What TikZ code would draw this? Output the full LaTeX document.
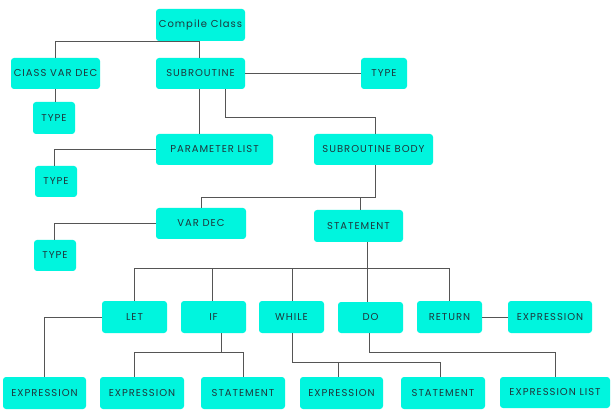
\documentclass[tikz,border=0pt]{standalone}
\usepackage{fontspec}
\setmainfont{Poppins}
\newfontfamily\boxfont[LetterSpace=10]{Poppins}
\definecolor{boxfill}{RGB}{0,245,222}
\definecolor{boxtext}{RGB}{30,55,60}
\definecolor{linec}{RGB}{85,85,85}
\begin{document}
\begin{tikzpicture}[x=1pt,y=-1pt,
  box/.style={fill=boxfill,rounded corners=3pt,inner sep=0pt,text=boxtext,font=\boxfont\fontsize{10}{12}\selectfont,minimum height=31pt},
  conn/.style={draw=linec,line width=0.8pt}]
\useasboundingbox[fill=white] (0,0) rectangle (615,419);
% nodes
\node[box,minimum width=89pt,minimum height=32pt] (cc) at (200.5,25) {Compile Class};
\node[box,minimum width=89pt] (cvd) at (55.5,73.5) {CIASS VAR DEC};
\node[box,minimum width=89pt] (sub) at (200.5,73.5) {SUBROUTINE};
\node[box,minimum width=42pt,minimum height=32pt] (t1) at (54,118) {TYPE};
\node[box,minimum width=46pt] (t2) at (384,73.5) {TYPE};
\node[box,minimum width=117pt] (pl) at (214.5,149.5) {PARAMETER LIST};
\node[box,minimum width=119pt] (sb) at (373.5,149.5) {SUBROUTINE BODY};
\node[box,minimum width=42pt] (t3) at (56,181.5) {TYPE};
\node[box,minimum width=90pt] (vd) at (201,223.5) {VAR DEC};
\node[box,minimum width=42pt] (t4) at (55,255.5) {TYPE};
\node[box,minimum width=89pt,minimum height=32pt] (st) at (358.5,226) {STATEMENT};
\node[box,minimum width=65pt,minimum height=32pt] (let) at (134.5,317) {LET};
\node[box,minimum width=65pt,minimum height=32pt] (if) at (213.5,317) {IF};
\node[box,minimum width=65pt,minimum height=32pt] (while) at (291.5,317) {WHILE};
\node[box,minimum width=65pt] (do) at (370.5,317.5) {DO};
\node[box,minimum width=65pt,minimum height=32pt] (ret) at (449.5,317) {RETURN};
\node[box,minimum width=84pt,minimum height=32pt] (e1) at (550,317) {EXPRESSION};
\node[box,minimum width=83pt,minimum height=32pt] (e2) at (44.5,393) {EXPRESSION};
\node[box,minimum width=84pt,minimum height=32pt] (e3) at (142,393) {EXPRESSION};
\node[box,minimum width=84pt,minimum height=32pt] (s2) at (243,393) {STATEMENT};
\node[box,minimum width=83pt,minimum height=32pt] (e4) at (341.5,393) {EXPRESSION};
\node[box,minimum width=84pt,minimum height=32pt] (s3) at (443,393) {STATEMENT};
\node[box,minimum width=110pt] (el) at (555,392.5) {EXPRESSION LIST};
% level coordinates
\coordinate (ya) at (0,117);
\coordinate (yb) at (0,197);
\coordinate (yc) at (0,268);
\coordinate (yd) at (0,352);
\coordinate (ye) at (0,362);
\coordinate (s3n) at ([xshift=-3pt]s3.north);
% connectors
\draw[conn] (cvd.north) -- (cvd.north |- cc.south) -- ([xshift=-1.5pt]sub.north |- cc.south) -- ([xshift=-1.5pt]sub.north);
\draw[conn] (cvd.south) -- (cvd.south |- t1.north);
\draw[conn] (sub.east) -- (t2.west);
\draw[conn] ([xshift=-1.5pt]sub.south) -- ([xshift=-1.5pt]sub.south |- pl.north);
\draw[conn] ([xshift=24.5pt]sub.south) -- ([xshift=24.5pt]sub.south |- ya) -| ([xshift=1.5pt]sb.north);
\draw[conn] (pl.west) -| ([xshift=-2pt]t3.north);
\draw[conn] ([xshift=1.5pt]sb.south) |- (yb -| vd.north) -- (vd.north);
\draw[conn] ([xshift=1.5pt]st.north) -- ([xshift=1.5pt]st.north |- yb);
\draw[conn] (vd.west) -| ([xshift=-1pt]t4.north);
\draw[conn] ([xshift=-3.5pt]do.north |- st.south) -- ([xshift=-3.5pt]do.north);
\draw[conn] (let.north) |- (yc -| ret.north) -- (ret.north);
\draw[conn] ([xshift=-1.5pt]if.north) -- ([xshift=-1.5pt]if.north |- yc);
\draw[conn] ([xshift=0.5pt]while.north) -- ([xshift=0.5pt]while.north |- yc);
\draw[conn] (ret.east) -- (e1.west);
\draw[conn] (let.west) -| (e2.north);
\draw[conn] ([xshift=7.5pt]if.south) -- ([xshift=7.5pt]if.south |- yd);
\draw[conn] ([xshift=-8pt]e3.north) |- (yd -| s2.north) -- (s2.north);
\draw[conn] ([xshift=0.5pt]while.south) |- (ye -| s3n) -- (s3n);
\draw[conn] ([xshift=-3.5pt]e4.north) -- ([xshift=-3.5pt]e4.north |- ye);
\draw[conn] ([xshift=-1.5pt]do.south) |- (yd -| el.north) -- (el.north);
\end{tikzpicture}
\end{document}
